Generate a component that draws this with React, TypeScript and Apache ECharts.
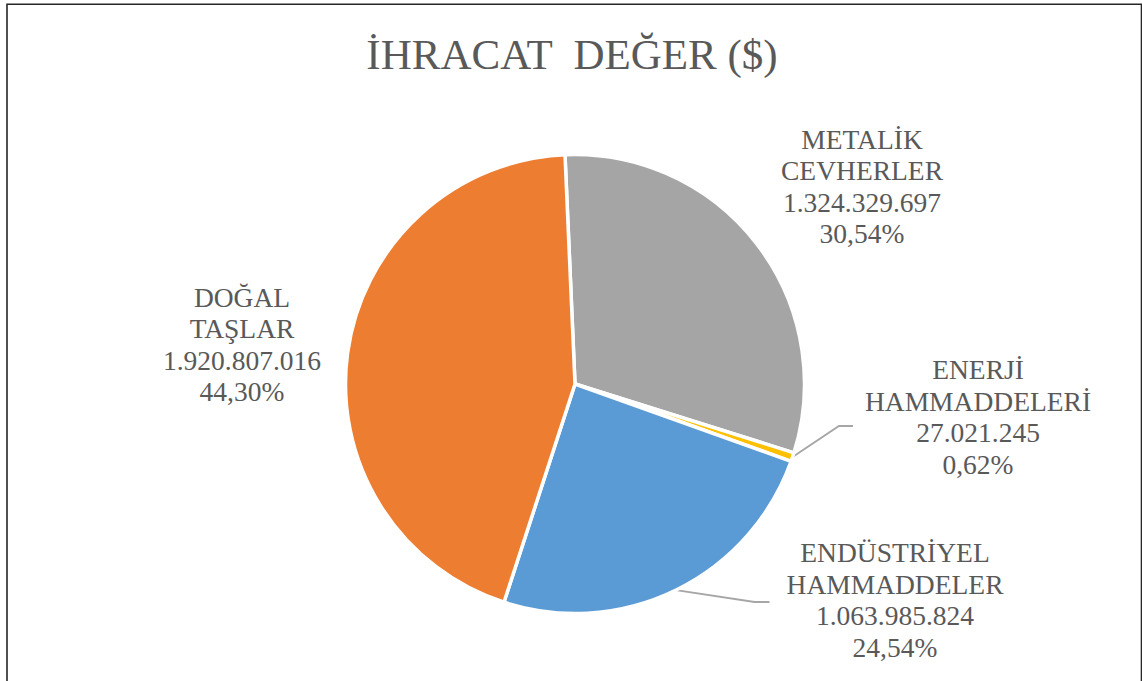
import React, { useEffect, useRef } from 'react';
import * as echarts from 'echarts';

// ---- data ----
const categories: string[] = [
  'METALİK\nCEVHERLER',
  'ENERJİ\nHAMMADDELERİ',
  'ENDÜSTRİYEL\nHAMMADDELER',
  'DOĞAL\nTAŞLAR',
];
const values: number[] = [1324329697, 27021245, 1063985824, 1920807016];
const titleText = 'İHRACAT  DEĞER ($)';

// ---- styles / layout ----
const colors = ['#A5A5A5', '#FFC000', '#5B9BD5', '#ED7D31'];
const showLeader = [false, true, true, false];
const labelCenters: number[][] = [
  [862, 186.5],
  [978, 417],
  [895, 600],
  [242, 344.5],
];
// leader end: [gap before label left edge, y offset from label center, horizontal length]
const leaderEnd: number[][] = [
  [0, 0, 0],
  [12, 9, 14],
  [17, 2, 15],
  [0, 0, 0],
];
const FONT = 'Liberation Serif';
const TEXT_COLOR = '#595959';

function fmtInt(v: number): string {
  return String(v).replace(/\B(?=(\d{3})+(?!\d))/g, '.');
}
function fmtPct(p: number): string {
  return p.toFixed(2).replace('.', ',') + '%';
}

export default function App() {
  const ref = useRef<HTMLDivElement>(null);
  useEffect(() => {
    if (!ref.current) return;
    const chart = echarts.init(ref.current, undefined, { renderer: 'svg' });
    const data = categories.map((name, i) => ({
      name,
      value: values[i],
      itemStyle: { color: colors[i] },
      labelLine: { show: showLeader[i] },
    }));
    chart.setOption({
      animation: false,
      backgroundColor: '#ffffff',
      graphic: [
        {
          type: 'rect',
          shape: { x: 7, y: 4.3, width: 1134.5, height: 720 },
          style: { fill: 'none', stroke: '#262626', lineWidth: 1.6 },
          silent: true,
        },
        {
          type: 'text',
          x: 572,
          y: 54.5,
          style: {
            text: titleText,
            fontFamily: FONT,
            fontSize: 43,
            fill: TEXT_COLOR,
            textAlign: 'center',
            textVerticalAlign: 'middle',
          },
          silent: true,
        },
      ],
      series: [
        {
          type: 'pie',
          center: [575, 384],
          radius: 229.5,
          startAngle: 92.5,
          clockwise: true,
          avoidLabelOverlap: false,
          itemStyle: { borderColor: '#ffffff', borderWidth: 3.5 },
          label: {
            show: true,
            position: 'outside',
            fontFamily: FONT,
            fontSize: 27.5,
            lineHeight: 31.5,
            color: TEXT_COLOR,
            align: 'center',
            formatter: (p: any) => `${p.name}\n${fmtInt(p.value)}\n${fmtPct(p.percent)}`,
          },
          labelLine: {
            show: true,
            length: 20,
            length2: 15,
            lineStyle: { color: '#A6A6A6', width: 1.8 },
          },
          labelLayout: (params: any) => {
            const i = params.dataIndex;
            const [cx, cy] = labelCenters[i];
            const res: any = { x: cx, y: cy, align: 'center', verticalAlign: 'middle' };
            if (showLeader[i] && params.labelLinePoints) {
              const w = params.labelRect.width;
              const left = cx - w / 2;
              const [gap, dy, len] = leaderEnd[i];
              const start = params.labelLinePoints[0];
              res.labelLinePoints = [
                [start[0], start[1]],
                [left - gap - len, cy + dy],
                [left - gap, cy + dy],
              ];
            }
            return res;
          },
          data,
        },
      ],
    });
    return () => chart.dispose();
  }, []);
  return (
    <div
      ref={ref}
      style={{ position: 'absolute', left: 0, top: 0, width: 1142, height: 681 }}
    />
  );
}
